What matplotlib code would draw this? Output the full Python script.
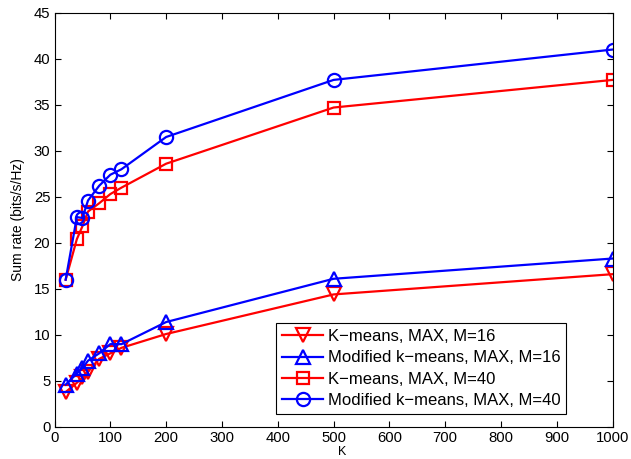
import matplotlib
matplotlib.use("Agg")
import matplotlib.pyplot as plt

plt.rcParams['font.family'] = ['Liberation Sans', 'DejaVu Sans']

K = [20, 40, 50, 60, 80, 100, 120, 200, 500, 1000]
kmeans_m16 = [3.8, 4.8, 5.4, 6.0, 7.4, 8.0, 8.6, 10.1, 14.4, 16.6]
mod_m16 = [4.6, 5.8, 6.4, 7.2, 8.0, 9.0, 9.0, 11.4, 16.1, 18.3]
kmeans_m40 = [16.0, 20.4, 21.8, 23.4, 24.3, 25.3, 26.0, 28.6, 34.7, 37.7]
mod_m40 = [16.0, 22.8, 22.7, 24.6, 26.2, 27.4, 28.0, 31.5, 37.7, 41.0]

labels = ['K\u2212means, MAX, M=16', 'Modified k\u2212means, MAX, M=16',
          'K\u2212means, MAX, M=40', 'Modified k\u2212means, MAX, M=40']

fig = plt.figure(figsize=(6.31, 4.59), dpi=100)
ax = fig.add_axes([54.5/631, 1 - 427/459, (612.7-54.5)/631, (427-12.7)/459])

kw = dict(lw=1.6, ms=9.5, mew=1.6, mfc='none')
ax.plot(K, kmeans_m16, color='#ff0000', marker='v', label=labels[0], **kw)
ax.plot(K, mod_m16, color='#0000ff', marker='^', label=labels[1], **kw)
ax.plot(K, kmeans_m40, color='#ff0000', marker='s', label=labels[2], lw=1.6, ms=8, mew=1.6, mfc='none')
ax.plot(K, mod_m40, color='#0000ff', marker='o', label=labels[3], **kw)

ax.set_xlim(0, 1000)
ax.set_ylim(0, 45)
ax.set_xticks(range(0, 1001, 100))
ax.set_yticks(range(0, 46, 5))
ax.tick_params(direction='in', top=True, right=True, labelsize=10.7, length=4, width=0.8, pad=3)
for s in ax.spines.values():
    s.set_linewidth(0.8)
ax.set_xlabel('K', fontsize=9, labelpad=0)
ax.xaxis.set_label_coords(0.515, -0.047)
ax.xaxis.label.set_verticalalignment('top')
ax.set_ylabel('Sum rate (bits/s/Hz)', fontsize=10, labelpad=6)

leg = ax.legend(loc='lower right', bbox_to_anchor=(566/631, 1 - 414/459), bbox_transform=fig.transFigure,
                fontsize=12, fancybox=False, framealpha=1, edgecolor='black',
                handlelength=2.5, handletextpad=0.25, labelspacing=0.38, borderpad=0.35, borderaxespad=0)
leg.get_frame().set_linewidth(0.8)

fig.savefig('out.png', dpi=100)
